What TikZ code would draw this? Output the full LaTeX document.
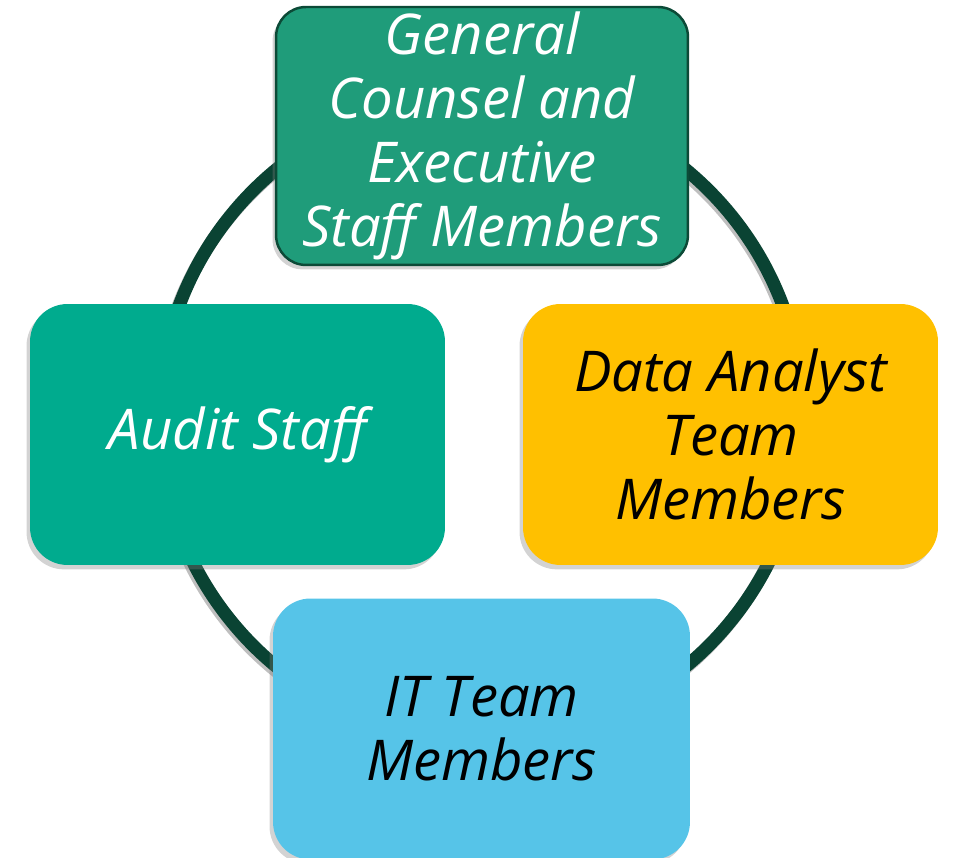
\documentclass[tikz,border=0pt]{standalone}
\usepackage{fontspec}
\setmainfont{Open Sans}
\usetikzlibrary{shadows}
\definecolor{ringgreen}{HTML}{0A4333}
\definecolor{gcgreen}{HTML}{1F9C7A}
\definecolor{gcborder}{HTML}{0C4A37}
\definecolor{auditgreen}{HTML}{00AB8E}
\definecolor{dagold}{HTML}{FFC000}
\definecolor{itblue}{HTML}{56C4E8}

\begin{document}
\begin{tikzpicture}[x=0.02cm, y=0.02cm,
    roundbox/.style={rectangle, rounded corners=0.75cm, minimum width=8.3cm,
        minimum height=5.22cm, align=center, inner sep=0pt,
        font=\fontsize{32}{36.5}\selectfont\itshape,
        drop shadow={shadow xshift=-2pt, shadow yshift=-2.5pt, opacity=.35}}]
    \useasboundingbox (0,0) rectangle (953,858);
    % ring behind the boxes
    \draw[black, opacity=.25, line width=13*0.02cm] (479,437) circle (322);
    \draw[ringgreen, line width=13*0.02cm] (481,440) circle (322);
    % the four groups
    \node[roundbox, fill=gcgreen, draw=gcborder, line width=1.4pt, rounded corners=0.6cm,
        minimum width=8.24cm, minimum height=5.16cm, text=white] (gc) at (482,722)
        {General\\Counsel and\\Executive\\Staff Members};
    \node[roundbox, fill=auditgreen, text=white] (audit) at (237.5,423.5) {Audit Staff};
    \node[roundbox, fill=dagold, text=black] (da) at (730.5,423.5)
        {Data Analyst\\Team\\Members};
    \node[roundbox, fill=itblue, text=black, minimum width=8.34cm] (it) at (481.5,129)
        {IT Team\\Members};
\end{tikzpicture}
\end{document}
